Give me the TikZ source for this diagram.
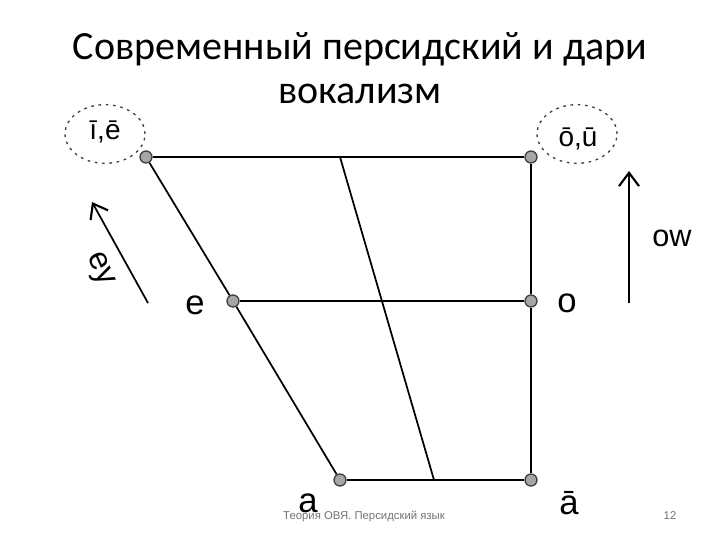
\documentclass[tikz,border=0pt]{standalone}
\usepackage{fontspec}
\setmainfont{Liberation Sans}
\newfontfamily\titlefont{Carlito}
\usetikzlibrary{arrows.meta, shapes.geometric}

\begin{document}
\begin{tikzpicture}[x=0.75pt, y=-0.75pt,
                    dot/.style={circle, draw=black!75, fill=black!35, line width=1pt, inner sep=0pt, minimum width=9pt},
                    vowel/.style={font=\fontsize{26}{26}\selectfont, inner sep=0pt},
                    longvowel/.style={font=\fontsize{21}{21}\selectfont, inner sep=0pt},
                    halo/.style={ellipse, draw=black!75, dashed, dash pattern=on 2pt off 3.5pt, line width=1pt, minimum width=60pt, minimum height=44pt},
                    edge_style/.style={draw=black, line width=1.3pt},
                    shift_arrow/.style={draw=black, line width=1.3pt, -{Straight Barb[length=10pt, width=15pt, line width=1.6pt]}}]
                    \useasboundingbox (0,0) rectangle (720,540);
                    % title
                    \node (title) at (360,68) [align=center, font=\titlefont\fontsize{30}{33}\selectfont] {Современный персидский и дари\\вокализм};
                    % vowel points
                    \node[dot] (v1) at (146,157) {};
                    \node[dot] (v2) at (531,157) {};
                    \node[dot] (v3) at (233,301) {};
                    \node[dot] (v4) at (531,301) {};
                    \node[dot] (v5) at (340,480) {};
                    \node[dot] (v6) at (531,480) {};
                    \coordinate (m1) at (340,157);
                    \coordinate (m2) at (434,480);
                    \draw[edge_style] (v1) -- (v2);
                    \draw[edge_style] (v3) -- (v4);
                    \draw[edge_style] (v5) -- (v6);
                    \draw[edge_style] (v1) -- (v3);
                    \draw[edge_style] (v3) -- (v5);
                    \draw[edge_style] (v2) -- (v4);
                    \draw[edge_style] (v4) -- (v6);
                    \draw[edge_style] (m1) -- (m2);
                    % labels
                    \node[halo] (h1) at (105,134) {};
                    \node[halo] (h2) at (577,134) {};
                    \node[longvowel] (l1) at (105,132) {ī,ē};
                    \node[longvowel] (l2) at (578,139) {ō,ū};
                    \node[vowel] (l3) at (195,305) {e};
                    \node[vowel] (l4) at (567,303) {o};
                    \node[vowel] (l5) at (308,503) {a};
                    \node[vowel] (l6) at (569,503) {ā};
                    % diphthong arrows
                    \coordinate (a1) at (148,303);
                    \coordinate (a2) at (92,202);
                    \coordinate (a3) at (629,303);
                    \coordinate (a4) at (629,171);
                    \draw[shift_arrow] (a1) -- (a2);
                    \draw[shift_arrow] (a3) -- (a4);
                    \node[vowel, font=\fontsize{24}{24}\selectfont, rotate=-66] (l7) at (99,270) {ey};
                    \node[vowel, font=\fontsize{23}{23}\selectfont] (l8) at (672,238) {ow};
                    % footer
                    \node (foot) at (364,516) [font=\fontsize{8.5}{8.5}\selectfont, text=black!55] {Теория ОВЯ. Персидский язык};
                    \node (page) at (670,516) [font=\fontsize{8.5}{8.5}\selectfont, text=black!55] {12};
                \end{tikzpicture}
\end{document}
